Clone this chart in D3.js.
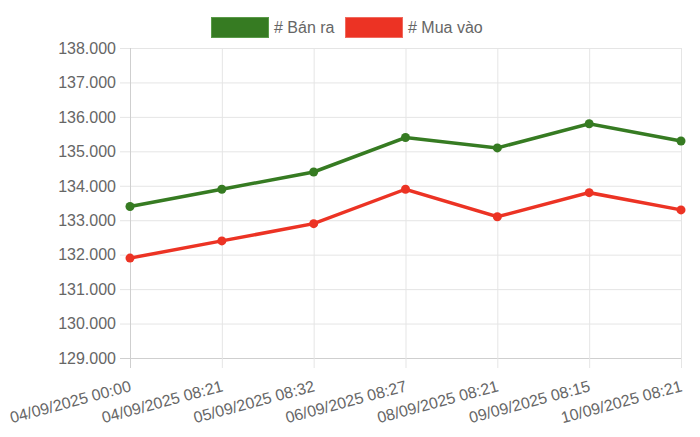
<!DOCTYPE html>
<html>
<head>
<meta charset="utf-8">
<script src="https://cdn.jsdelivr.net/npm/d3@7"></script>
<style>
  body { margin: 0; background: #fff; }
  text { font-family: "Liberation Sans", Arial, sans-serif; fill: #666; }
</style>
</head>
<body>
<div id="container"></div>
<script>
let w = 700;
let h = 437;

// data
let labels = ['04/09/2025 00:00', '04/09/2025 08:21', '05/09/2025 08:32', '06/09/2025 08:27',
    '08/09/2025 08:21', '09/09/2025 08:15', '10/09/2025 08:21'];
let banRa = [133.4, 133.9, 134.4, 135.4, 135.1, 135.8, 135.3];
let muaVao = [131.9, 132.4, 132.9, 133.9, 133.1, 133.8, 133.3];
let yTicks = [129, 130, 131, 132, 133, 134, 135, 136, 137, 138];
let seriesNames = ['# Bán ra', '# Mua vào'];
let colors = ['#367b22', '#ec3324'];

let padL = 130, padR = 681, padT = 48, padB = 358;

let viz = d3.select('#container').append('svg')
    .attr('width', w)
    .attr('height', h);

let x = d3.scalePoint().domain(labels).range([padL, padR]);
let y = d3.scaleLinear().domain([129, 138]).range([padB, padT]);

// grid
viz.append('g').selectAll('line').data(yTicks).join('line')
    .attr('x1', padL - 10).attr('x2', padR)
    .attr('y1', d => y(d) + 0.5).attr('y2', d => y(d) + 0.5)
    .attr('stroke', d => d === 129 ? '#cfcfcf' : '#e5e5e5')
    .attr('stroke-width', 1);

viz.append('g').selectAll('line').data(labels).join('line')
    .attr('x1', d => x(d) + 0.5).attr('x2', d => x(d) + 0.5)
    .attr('y1', padT).attr('y2', padB + 10)
    .attr('stroke', (d, i) => i === 0 ? '#cfcfcf' : '#e5e5e5')
    .attr('stroke-width', 1);

// y labels
viz.append('g').selectAll('text').data(yTicks).join('text')
    .text(d => d.toFixed(0) + '.000')
    .attr('x', padL - 14)
    .attr('y', d => y(d))
    .attr('dy', '0.36em')
    .attr('text-anchor', 'end')
    .attr('font-size', '16px');

// x labels (rotated)
viz.append('g').selectAll('text').data(labels).join('text')
    .text(d => d)
    .attr('text-anchor', 'end')
    .attr('font-size', '16px')
    .attr('transform', d => 'translate(' + (x(d) + 2) + ',' + 391 + ') rotate(-15)');

// lines
let series = [banRa, muaVao];
let line = d3.line().x((d, i) => x(labels[i])).y(d => y(d));

series.forEach((s, k) => {
    viz.append('path')
        .datum(s)
        .attr('d', line)
        .attr('fill', 'none')
        .attr('stroke', colors[k])
        .attr('stroke-width', 3.5);

    viz.append('g').selectAll('circle').data(s).join('circle')
        .attr('cx', (d, i) => x(labels[i]))
        .attr('cy', d => y(d))
        .attr('r', 4.5)
        .attr('fill', colors[k]);
});

// legend
let legendX = [211, 345];
seriesNames.forEach((n, k) => {
    viz.append('rect')
        .attr('x', legendX[k] + 0.5).attr('y', 17.5)
        .attr('width', 57).attr('height', 20)
        .attr('fill', colors[k])
        .attr('stroke', k === 0 ? '#5a9a48' : '#f06a5e')
        .attr('stroke-width', 1);
    viz.append('text')
        .text(n)
        .attr('x', legendX[k] + 63)
        .attr('y', 27.5)
        .attr('dy', '0.36em')
        .attr('font-size', '16px');
});
</script>
</body>
</html>
